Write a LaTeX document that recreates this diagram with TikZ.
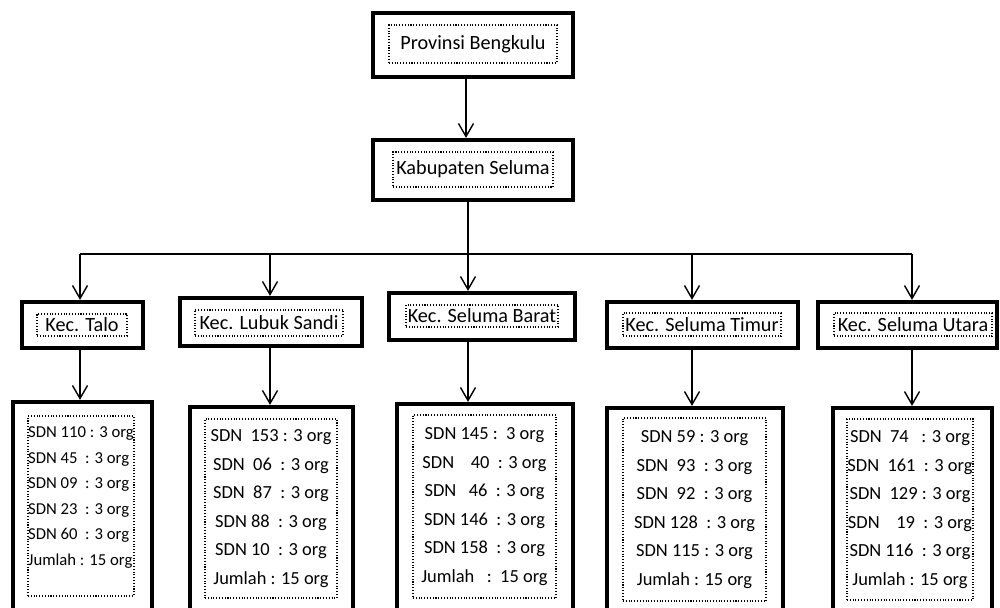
\documentclass[tikz,border=0pt]{standalone}
\usepackage{fontspec}
\setmainfont{Carlito}
\usepackage{tikz}
\usetikzlibrary{arrows.meta, positioning}

\begin{document}
\begin{tikzpicture}[
    outerbox/.style={
        rectangle,
        draw=black,
        fill=white,
        line width=2.4pt,
        inner sep=0pt
    },
    innerbox/.style={
        rectangle,
        draw=black,
        densely dotted,
        line width=0.6pt,
        inner sep=0pt,
        align=center,
        font=\fontsize{11.5}{14}\selectfont
    },
    databox/.style={
        innerbox,
        font=\fontsize{10.5}{16.2}\selectfont
    },
    line/.style={
        line width=0.8pt,
        black
    },
    arrow/.style={
        line,
        -{Straight Barb[length=2.6mm,width=3mm]}
    }
]

% Page frame
\clip (0,0) rectangle (20,-12.14);
\fill[white] (0,0) rectangle (20,-12.14);

% Province
\node[outerbox, minimum width=4cm, minimum height=1.28cm] (prov) at (9.46,-0.9) {};
\node[innerbox, minimum width=3.36cm, minimum height=0.76cm] (provtext) at (9.46,-0.88) {Provinsi Bengkulu};

% Regency
\node[outerbox, minimum width=4cm, minimum height=1.2cm] (kab) at (9.46,-3.4) {};
\node[innerbox, minimum width=3.2cm, minimum height=0.7cm] (kabtext) at (9.46,-3.39) {Kabupaten Seluma};

% Districts
\node[outerbox, minimum width=2.42cm, minimum height=0.92cm] (talo) at (1.65,-6.5) {};
\node[innerbox, minimum width=1.8cm, minimum height=0.44cm] (talotext) at (1.64,-6.5) {Kec. Talo};

\node[outerbox, minimum width=3.64cm, minimum height=0.96cm] (lubuk) at (5.42,-6.44) {};
\node[innerbox, minimum width=2.96cm, minimum height=0.52cm] (lubuktext) at (5.38,-6.46) {Kec. Lubuk Sandi};

\node[outerbox, minimum width=3.72cm, minimum height=0.94cm] (barat) at (9.64,-6.33) {};
\node[innerbox, minimum width=3.04cm, minimum height=0.44cm] (barattext) at (9.64,-6.32) {Kec. Seluma Barat};

\node[outerbox, minimum width=3.82cm, minimum height=0.92cm] (timur) at (14.05,-6.5) {};
\node[innerbox, minimum width=3.16cm, minimum height=0.46cm] (timurtext) at (14.04,-6.49) {Kec. Seluma Timur};

\node[outerbox, minimum width=3.58cm, minimum height=0.92cm] (utara) at (18.15,-6.5) {};
\node[innerbox, minimum width=3.16cm, minimum height=0.46cm] (utaratext) at (18.26,-6.49) {Kec. Seluma Utara};

% Schools per district
\node[outerbox, minimum width=2.78cm, minimum height=4.46cm] (talodata) at (1.65,-10.27) {};
\node[databox, align=left, font=\fontsize{9.5}{14.5}\selectfont, minimum width=2.12cm, minimum height=3.6cm] (talolist) at (1.62,-10.12) {%
    SDN 110 : 3 org\\
    SDN 45\ \ : 3 org\\
    SDN 09\ \ : 3 org\\
    SDN 23\ \ : 3 org\\
    SDN 60\ \ : 3 org\\
    Jumlah : 15 org\\[-0.12cm]
    \mbox{}};

\node[outerbox, minimum width=3.26cm, minimum height=4.36cm] (lubukdata) at (5.43,-10.32) {};
\node[databox, minimum width=2.64cm, minimum height=3.58cm] (lubuklist) at (5.42,-10.17) {%
    SDN\ \ 153 : 3 org\\
    SDN\ \ 06\ \ : 3 org\\
    SDN\ \ 87\ \ : 3 org\\
    SDN\ 88\ \ : 3 org\\
    SDN\ 10\ \ : 3 org\\
    Jumlah : 15 org};

\node[outerbox, minimum width=3.52cm, minimum height=4.42cm] (baratdata) at (9.7,-10.29) {};
\node[databox, minimum width=2.86cm, minimum height=3.66cm] (baratlist) at (9.69,-10.13) {%
    SDN 145 :\ \ 3 org\\
    SDN\ \ \ \ 40\ \ : 3 org\\
    SDN\ \ \ 46\ \ : 3 org\\
    SDN 146\ \ : 3 org\\
    SDN 158\ \ : 3 org\\
    Jumlah\ \ \ :\ \ 15 org};

\node[outerbox, minimum width=3.52cm, minimum height=4.34cm] (timurdata) at (13.9,-10.33) {};
\node[databox, minimum width=2.86cm, minimum height=3.66cm] (timurlist) at (13.89,-10.19) {%
    SDN 59 : 3 org\\
    SDN\ \ 93\ \ : 3 org\\
    SDN\ \ 92\ \ : 3 org\\
    SDN 128\ \ : 3 org\\
    SDN 115 : 3 org\\
    Jumlah : 15 org};

\node[outerbox, minimum width=3.18cm, minimum height=4.34cm] (utaradata) at (18.25,-10.33) {};
\node[databox, minimum width=2.52cm, minimum height=3.62cm] (utaralist) at (18.2,-10.19) {%
    SDN\ \ 74\ \ \ : 3 org\\
    SDN\ \ 161\ \ : 3 org\\
    SDN\ \ 129 : 3 org\\
    SDN\ \ \ \ 19\ \ : 3 org\\
    SDN 116\ \ : 3 org\\
    Jumlah : 15 org};

% Junctions on the branch line
\coordinate (jtalo) at (1.6,-5.08);
\coordinate (jlubuk) at (5.4,-5.08);
\coordinate (jbarat) at (9.36,-5.08);
\coordinate (jtimur) at (13.84,-5.08);
\coordinate (jutara) at (18.24,-5.08);

% Arrows
\draw[arrow] ([xshift=-1.4mm]prov.south) -- ([xshift=-1.4mm]kab.north);
\draw[line] (kab.south -| jbarat) -- (jbarat);
\draw[line] (jtalo) -- (jutara);
\foreach \k in {talo,lubuk,barat,timur,utara} {
    \draw[arrow] (j\k) -- (j\k |- \k.north);
    \draw[arrow] (j\k |- \k.south) -- (j\k |- \k data.north);
}

\end{tikzpicture}
\end{document}
